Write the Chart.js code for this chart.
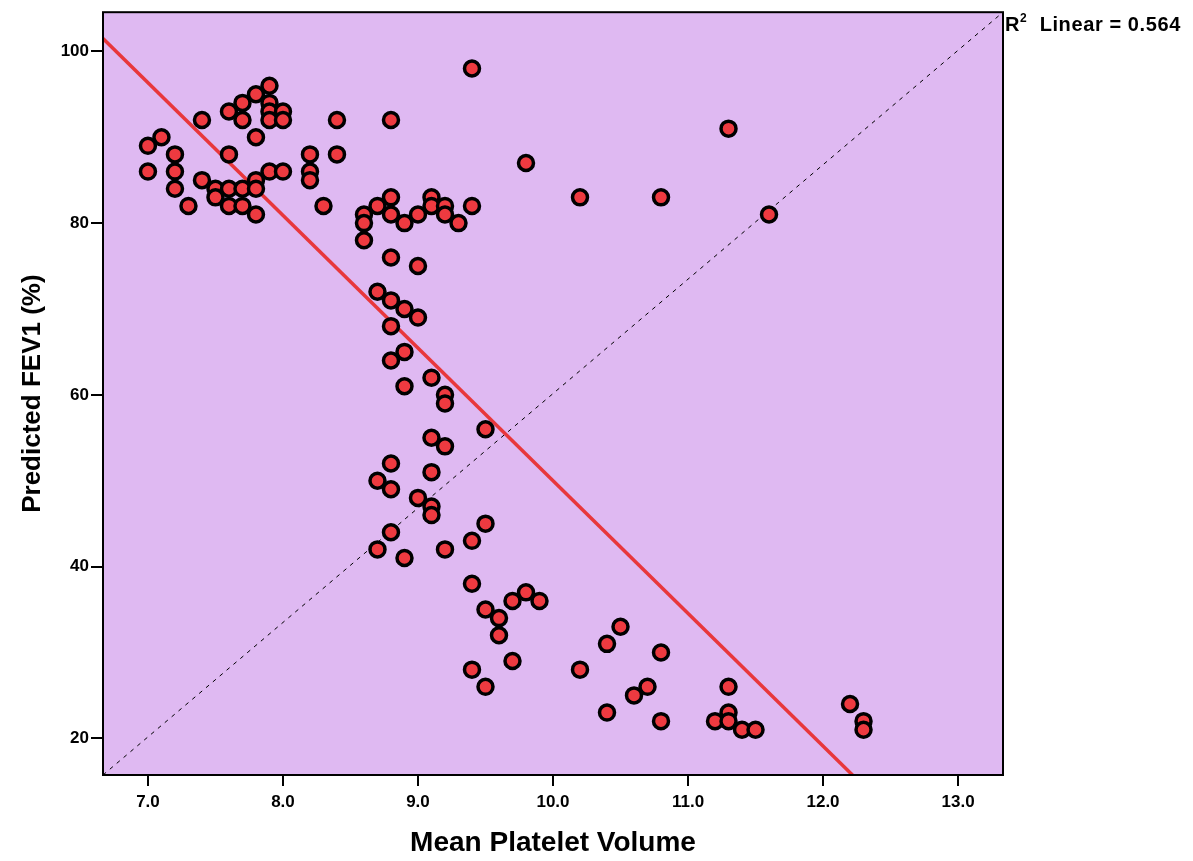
<!DOCTYPE html>
<html>
<head>
<meta charset="utf-8">
<script src="https://cdn.jsdelivr.net/npm/chart.js@4.4.1/dist/chart.umd.min.js"></script>
<style>
body{margin:0;background:#fff;font-family:"Liberation Sans",Arial,sans-serif;}
#wrap{position:relative;width:1193px;height:861px;}
#fitLabel{position:absolute;left:1005px;top:12px;font-weight:bold;font-size:20px;letter-spacing:0.6px;color:#000;white-space:nowrap;}
#fitLabel sup{font-size:12px;position:relative;top:-1px;}
</style>
</head>
<body>
<div id="wrap">
<canvas id="grafico" width="1193" height="861"></canvas>
<div id="fitLabel">R<sup>2</sup>&nbsp; Linear = 0.564</div>
</div>
<script>
// mean platelet volume (x) and predicted FEV1 % (y)
const mpv = [
7.0,7.0, 7.1, 7.2,7.2,7.2, 7.3, 7.4,7.4, 7.5,7.5,
7.6,7.6,7.6,7.6, 7.7,7.7,7.7,7.7, 7.8,7.8,7.8,7.8,7.8,
7.9,7.9,7.9,7.9,7.9, 8.0,8.0,8.0, 8.2,8.2,8.2, 8.3, 8.4,8.4,
8.6,8.6,8.6, 8.7,8.7,8.7,8.7,
8.8,8.8,8.8,8.8,8.8,8.8,8.8,8.8,8.8,8.8,
8.9,8.9,8.9,8.9,8.9, 9.0,9.0,9.0,9.0,
9.1,9.1,9.1,9.1,9.1,9.1,9.1, 9.2,9.2,9.2,9.2,9.2,9.2, 9.3,
9.4,9.4,9.4,9.4,9.4, 9.5,9.5,9.5,9.5, 9.6,9.6, 9.7,9.7, 9.8,9.8, 9.9,
10.2,10.2, 10.4,10.4, 10.5, 10.6, 10.7, 10.8,10.8,10.8,
11.2, 11.3,11.3,11.3,11.3, 11.4, 11.5, 11.6, 12.2, 12.3,12.3
];
const fev1 = [
89,86, 90, 88,86,84, 82, 92,85, 84,83,
93,88,84,82, 94,92,84,82, 95,90,85,84,81,
96,94,93,92,86, 93,92,86, 88,86,85, 82, 92,88,
81,80,78, 82,72,50,42,
92,83,81,76,71,68,64,52,49,44,
80,70,65,61,41, 81,75,69,48,
83,82,62,55,51,47,46, 82,81,60,59,54,42, 80,
98,82,43,38,28, 56,45,35,26, 34,32, 36,29, 87,37, 36,
83,28, 31,23, 33, 25, 26, 83,30,22,
22, 91,26,23,22, 21, 21, 81, 24, 22,21
];

// linear fit shown on the chart (R2 = 0.564)
const fitIntercept = 204.5;
const fitSlope = -15.45;

const xMin = 6.667, xMax = 13.333;
const yMin = 15.73, yMax = 104.56;
const xTicks = [7,8,9,10,11,12,13];
const yTicks = [20,40,60,80,100];

const pontos = mpv.map((v,i)=>({x:v,y:fev1[i]}));
const fitLine = [xMin,xMax].map(x=>({x:x,y:fitIntercept+fitSlope*x}));
const diagonal = [{x:xMin,y:yMin},{x:xMax,y:yMax}];

const fundo = {
id:"fundo",
beforeDraw(chart){
const a=chart.chartArea, c=chart.ctx;
c.save();
c.fillStyle="#dfb9f2";
c.fillRect(a.left,a.top,a.right-a.left,a.bottom-a.top);
c.restore();
},
afterDraw(chart){
const a=chart.chartArea, c=chart.ctx;
c.save();
c.strokeStyle="#000";
c.lineWidth=2;
c.strokeRect(a.left,a.top,a.right-a.left,a.bottom-a.top);
c.restore();
}
};

const tickFont = {family:"'Liberation Sans', Arial, sans-serif", size:17, weight:"bold"};
const areaTop = 6;

const chart = new Chart(document.getElementById("grafico"),{
type:"scatter",
data:{
datasets:[
{
data:pontos,
backgroundColor:"#ee3a40",
borderColor:"#000",
borderWidth:3.5,
pointRadius:7.5,
pointHoverRadius:7.5,
order:0
},
{
type:"line",
data:fitLine,
borderColor:"#e8373c",
borderWidth:3.5,
pointRadius:0,
fill:false,
order:1
},
{
type:"line",
data:diagonal,
borderColor:"#000",
borderWidth:1,
borderDash:[4,5],
pointRadius:0,
fill:false,
order:2
}
]
},
options:{
responsive:false,
animation:false,
layout:{autoPadding:false,padding:{top:areaTop,right:190,left:0,bottom:0}},
plugins:{legend:{display:false},tooltip:{enabled:false}},
scales:{
x:{
type:"linear",
min:xMin,max:xMax,
afterBuildTicks(s){s.ticks=xTicks.map(v=>({value:v}));},
afterFit(s){s.height=86;},
ticks:{color:"#000",font:tickFont,padding:6,maxRotation:0,callback:v=>v.toFixed(1)},
grid:{drawOnChartArea:false,drawTicks:true,tickLength:11,color:"#000",lineWidth:2},
border:{display:false},
title:{display:true,text:"Mean Platelet Volume",color:"#000",
font:{family:"'Liberation Sans', Arial, sans-serif",size:28,weight:"bold"},padding:{top:0,bottom:1}}
},
y:{
type:"linear",
min:yMin,max:yMax,
afterBuildTicks(s){s.ticks=yTicks.map(v=>({value:v}));},
afterFit(s){s.width=103;},
ticks:{color:"#000",font:tickFont,padding:2},
grid:{drawOnChartArea:false,drawTicks:true,tickLength:12,color:"#000",lineWidth:2},
border:{display:false},
title:{display:true,text:"Predicted FEV1 (%)",color:"#000",
font:{family:"'Liberation Sans', Arial, sans-serif",size:26,weight:"bold"},padding:{top:17,bottom:0}}
}
}
},
plugins:[fundo]
});

// chart.js still pushes the plot top down for the tick labels, so pull it back
for(let i=0;i<3;i++){
const diff = chart.chartArea.top - areaTop;
if(Math.abs(diff)<0.5) break;
chart.options.layout.padding.top -= diff;
chart.update();
}
</script>
</body>
</html>
